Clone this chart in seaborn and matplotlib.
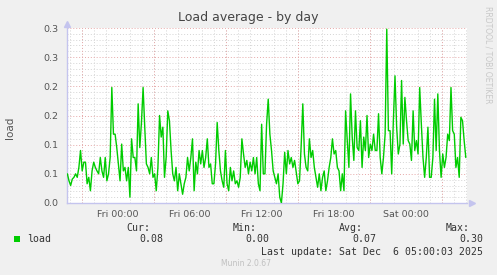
import numpy as np
import pandas as pd
import matplotlib
matplotlib.use("Agg")
import matplotlib.pyplot as plt
import seaborn as sns

# ---- data ----
load_values = [
    0.050, 0.038, 0.030, 0.041, 0.044, 0.050, 0.044, 0.061, 0.090, 0.055,
    0.070, 0.070, 0.033, 0.044, 0.021, 0.055, 0.070, 0.061, 0.055, 0.050,
    0.078, 0.055, 0.044, 0.078, 0.038, 0.050, 0.078, 0.198, 0.118, 0.118,
    0.095, 0.067, 0.038, 0.101, 0.055, 0.061, 0.038, 0.061, 0.010, 0.110,
    0.078,
    0.078, 0.055, 0.170, 0.095, 0.138, 0.198, 0.130, 0.067, 0.061, 0.050,
    0.078, 0.044, 0.050, 0.021, 0.061, 0.150, 0.113, 0.130, 0.044, 0.078,
    0.158, 0.141, 0.090, 0.050, 0.038, 0.061, 0.021, 0.050, 0.033, 0.015,
    0.033, 0.044, 0.078, 0.055, 0.078, 0.110, 0.021, 0.070, 0.050, 0.090,
    0.067,
    0.090, 0.061, 0.078, 0.110, 0.061, 0.067, 0.033, 0.033, 0.067, 0.138,
    0.090, 0.055, 0.038, 0.027, 0.090, 0.033, 0.021, 0.061, 0.038, 0.055,
    0.033, 0.038, 0.027, 0.044, 0.110, 0.084, 0.061, 0.073, 0.050, 0.070,
    0.055, 0.078, 0.050, 0.078, 0.033, 0.021, 0.135, 0.050, 0.050, 0.135,
    0.178,
    0.118, 0.090, 0.055, 0.044, 0.033, 0.050, 0.010, 0.000, 0.033, 0.087,
    0.050, 0.090, 0.067, 0.078, 0.061, 0.073, 0.053, 0.033, 0.038, 0.098,
    0.170, 0.084, 0.061, 0.055, 0.110, 0.078, 0.090, 0.061, 0.044, 0.027,
    0.050, 0.021, 0.044, 0.055, 0.021, 0.038, 0.061, 0.078, 0.110, 0.084,
    0.090,
    0.061, 0.055, 0.021, 0.050, 0.021, 0.158, 0.107, 0.061, 0.187, 0.113,
    0.073, 0.158, 0.095, 0.090, 0.141, 0.061, 0.113, 0.090, 0.150, 0.078,
    0.101, 0.090, 0.118, 0.090, 0.090, 0.153, 0.078, 0.050, 0.078, 0.118,
    0.298, 0.124, 0.124, 0.050, 0.141, 0.218, 0.130, 0.084, 0.101, 0.210,
    0.101,
    0.181, 0.141, 0.107, 0.101, 0.073, 0.158, 0.090, 0.107, 0.084, 0.198,
    0.135, 0.078, 0.044, 0.078, 0.130, 0.044, 0.044, 0.078, 0.178, 0.090,
    0.187, 0.090, 0.044, 0.084, 0.061, 0.078, 0.118, 0.107, 0.198, 0.124,
    0.118, 0.061, 0.078, 0.044, 0.147, 0.141, 0.107, 0.078,
]
# hours relative to Fri 00:00
first_hour = -4.22
last_hour = 28.98
x_range = (-4.25, 29.08)

xtick_hours = [0, 6, 12, 18, 24]
xtick_labels = ["Fri 00:00", "Fri 06:00", "Fri 12:00", "Fri 18:00", "Sat 00:00"]
major_vgrid_hours = [-3, 3, 9, 15, 21, 27]
ytick_values = [0.0, 0.05, 0.10, 0.15, 0.20, 0.25, 0.30]
ytick_labels = ["0.0", "0.1", "0.1", "0.2", "0.2", "0.3", "0.3"]

series_name = "load"
stat_names = ["Cur:", "Min:", "Avg:", "Max:"]
stat_values = ["0.08", "0.00", "0.07", "0.30"]
title = "Load average - by day"
last_update = "Last update: Sat Dec  6 05:00:03 2025"
footer = "Munin 2.0.67"
side_text = "RRDTOOL / TOBI OETIKER"

hours = np.linspace(first_hour, last_hour, len(load_values))
df = pd.DataFrame({"hour": hours, "load": load_values})

# ---- style ----
sns.set_theme(style="white")
plt.rcParams["font.family"] = ["DejaVu Sans"]
W, H = 497, 275
BG = "#f0f0f0"
TXT = "#555555"
AXC = "#c4c4ee"
GREEN = "#00cc00"

fig = plt.figure(figsize=(W / 100, H / 100), dpi=100, facecolor=BG)
ax = fig.add_axes([67 / W, 72 / H, 400 / W, 175 / H])
ax.set_facecolor("white")

sns.lineplot(data=df, x="hour", y="load", ax=ax, color=GREEN, linewidth=1.0,
             legend=False, zorder=5)

ax.set_xlim(*x_range)
ax.set_ylim(0, 0.3)

# minor grid
ax.set_xticks(np.arange(-4, 30, 1), minor=True)
ax.set_yticks(np.arange(0, 0.301, 0.01), minor=True)
ax.grid(which="minor", color="#d4d4d4", linestyle=(0, (1, 2)), linewidth=0.7)
# major y grid (red)
ax.set_yticks(ytick_values)
ax.set_yticklabels(ytick_labels)
ax.grid(which="major", axis="y", color="#e6a8a8", linestyle=(0, (1, 2)), linewidth=0.7)
ax.grid(which="major", axis="x", visible=False)
for h in major_vgrid_hours:
    ax.axvline(h, color="#e6a8a8", linestyle=(0, (1, 2)), linewidth=0.7, zorder=1)

ax.set_xticks(xtick_hours)
ax.set_xticklabels(xtick_labels)
ax.tick_params(axis="both", which="both", length=0, colors=TXT, labelsize=6.8)
ax.tick_params(axis="x", pad=5)
ax.tick_params(axis="y", pad=6)
ax.set_xlabel("")
ax.set_ylabel("")

for s in ["top", "right"]:
    ax.spines[s].set_visible(False)
for s in ["left", "bottom"]:
    ax.spines[s].set_color(AXC)
    ax.spines[s].set_linewidth(1.0)
ax.plot([1.012], [0], marker=">", markersize=5, color=AXC, transform=ax.transAxes,
        clip_on=False)
ax.plot([0], [1.025], marker="^", markersize=5, color=AXC, transform=ax.transAxes,
        clip_on=False)


def px(x, y):
    return x / W, 1 - y / H


fig.text(*px(248, 18), title, ha="center", va="center", fontsize=9, color="#444444")
fig.text(*px(10, 128), series_name, ha="center", va="center", rotation=90,
         fontsize=7.5, color=TXT)
fig.text(*px(488, 6), side_text, ha="center", va="top", rotation=270,
         fontsize=5.5, color="#c8c8c8")

mono = "DejaVu Sans Mono"
fs = 7.1
fig.patches.append(plt.Rectangle(px(14, 242), 6 / W, 6 / H, transform=fig.transFigure,
                                 facecolor=GREEN, edgecolor="none"))
fig.text(*px(27, 239), series_name, ha="left", va="center", family=mono, fontsize=fs,
         color="#333333")
name_right = [150, 257, 363, 470]
val_right = [163, 269, 376, 483]
for n, v, nx, vx in zip(stat_names, stat_values, name_right, val_right):
    fig.text(*px(nx, 228), n, ha="right", va="center", family=mono, fontsize=fs,
             color="#333333")
    fig.text(*px(vx, 239), v, ha="right", va="center", family=mono, fontsize=fs,
             color="#333333")
fig.text(*px(483, 252), last_update, ha="right", va="center", family=mono, fontsize=fs,
         color="#333333")
fig.text(*px(246, 264), footer, ha="center", va="center", fontsize=5.5, color="#c0c0c0")

fig.savefig("out.png", dpi=100, facecolor=BG)
